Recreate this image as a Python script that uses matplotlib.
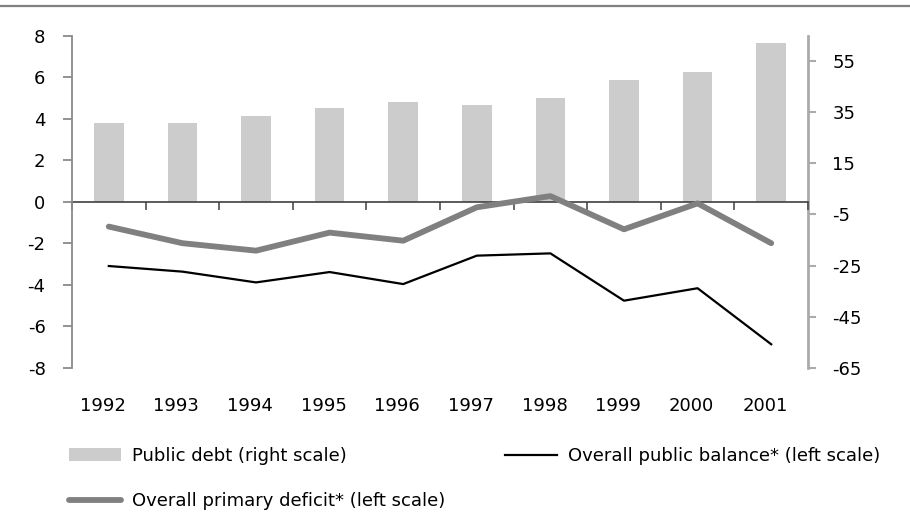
import numpy as np
import matplotlib
matplotlib.use("Agg")
import matplotlib.pyplot as plt
from matplotlib.lines import Line2D
from matplotlib.transforms import ScaledTranslation

plt.rcParams['font.family'] = ['DejaVu Sans']
plt.rcParams['axes.unicode_minus'] = False

years = ['1992', '1993', '1994', '1995', '1996', '1997', '1998', '1999', '2000', '2001']
public_debt = [30.7, 30.7, 33.7, 36.7, 38.9, 37.8, 40.8, 47.5, 50.8, 62.1]
primary_deficit = [-1.2, -2.0, -2.36, -1.49, -1.88, -0.27, 0.27, -1.33, -0.08, -2.0]
overall_balance = [-3.1, -3.37, -3.89, -3.39, -3.97, -2.6, -2.49, -4.77, -4.17, -6.87]
left_ticks = list(range(-8, 9, 2))
right_ticks = list(range(-65, 66, 20))

W, H = 910, 516
fig = plt.figure(figsize=(W / 100, H / 100), dpi=100)
ax = fig.add_axes([72 / W, 1 - 367.7 / H, (808 - 72) / W, (367.7 - 35.7) / H])
ax2 = ax.twinx()

x = np.arange(len(years))
bars = ax2.bar(x, public_debt, width=0.4, color='#cccccc', zorder=1)
ax2.set_ylim(-65, 65)
ax2.set_yticks(right_ticks)

l_bal, = ax.plot(x, overall_balance, color='black', lw=1.6, zorder=3)
l_prim, = ax.plot(x, primary_deficit, color='#808080', lw=4.2,
                  solid_capstyle='round', solid_joinstyle='round', zorder=2)
ax.set_ylim(-8, 8)
ax.set_yticks(left_ticks)
ax.set_xlim(-0.5, len(years) - 0.5)
ax.set_xticks(x)
ax.set_xticklabels(years)

ax.set_zorder(ax2.get_zorder() + 1)
ax.patch.set_visible(False)

for s in ['top', 'right', 'bottom']:
    ax.spines[s].set_visible(False)
for s in ['top', 'left', 'bottom']:
    ax2.spines[s].set_visible(False)
ax.spines['left'].set_color('#8a8a8a')
ax.spines['left'].set_linewidth(1.3)
ax2.spines['right'].set_color('#ababab')
ax2.spines['right'].set_linewidth(2.0)

ax.tick_params(axis='y', direction='out', length=6.5, width=1.3, color='#8a8a8a',
               pad=12.5, labelsize=13, labelcolor='black')
ax.tick_params(axis='x', length=0, pad=21, labelsize=13)
ax2.tick_params(axis='y', direction='out', length=6, width=1.5, color='#ababab',
                pad=11.5, labelsize=13, labelcolor='black')

off = ScaledTranslation(-0.06, 0, fig.dpi_scale_trans)
for lbl in ax.get_xticklabels():
    lbl.set_transform(lbl.get_transform() + off)

# zero line with category boundary ticks
sec = ax.secondary_xaxis(0.49999)
sec.set_xticks(np.arange(-0.5, len(years), 1.0))
sec.set_xticklabels([])
sec.tick_params(axis='x', direction='out', length=5.5, width=1.1, color='#404040')
for s in sec.spines.values():
    s.set_color('#404040')
    s.set_linewidth(1.2)

# top rule
fig.add_artist(Line2D([0, 1], [1 - 6 / H] * 2, transform=fig.transFigure,
                      color='#808080', lw=1.6))

leg_kw = dict(loc='upper left', frameon=False, borderpad=0, borderaxespad=0,
              handlelength=2.9, handletextpad=0.6, labelspacing=1.52, fontsize=13)
fig.legend([bars, l_prim], ['Public debt (right scale)', 'Overall primary deficit* (left scale)'],
           bbox_to_anchor=(69 / W, 1 - 447 / H), **leg_kw)
fig.legend([l_bal], ['Overall public balance* (left scale)'],
           bbox_to_anchor=(505 / W, 1 - 447 / H), **leg_kw)

fig.savefig('out.png', dpi=100)
